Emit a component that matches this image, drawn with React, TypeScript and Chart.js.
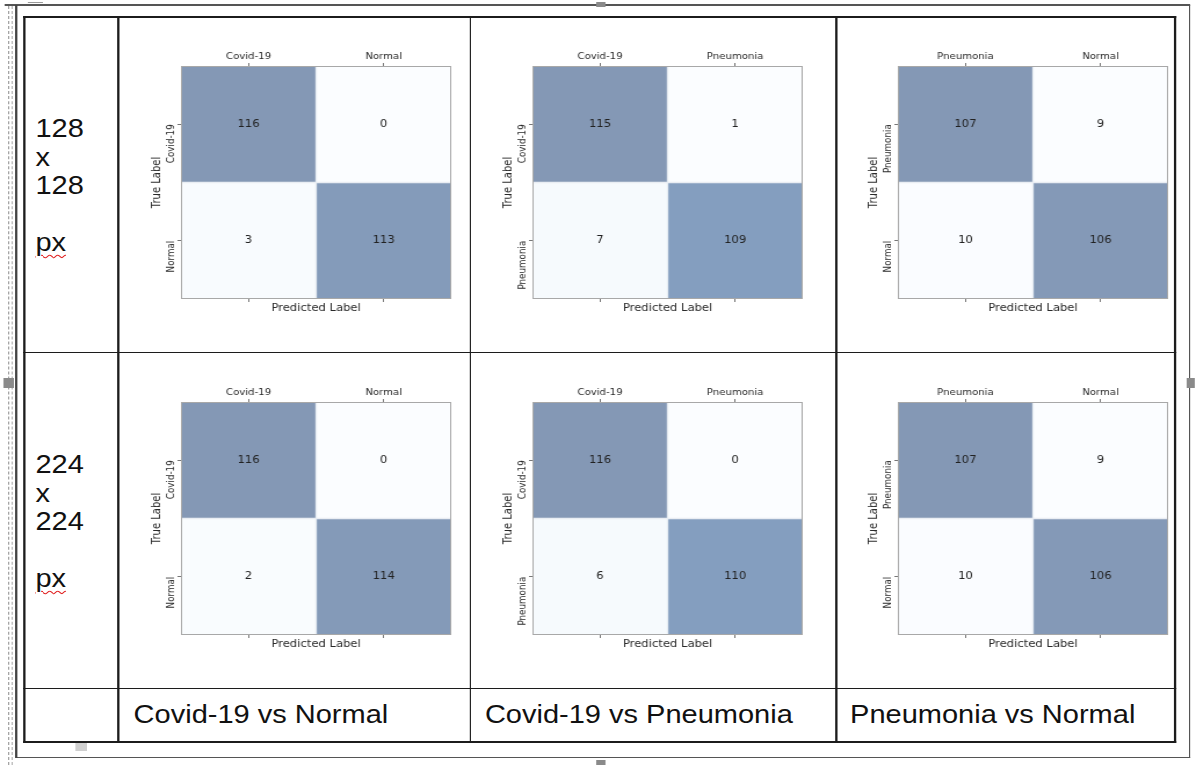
import React, { useEffect, useRef } from "react";
import { Chart, registerables } from "chart.js";

Chart.register(...registerables);

// ---------- data ----------
const classesCovidNormal = ["Covid-19", "Normal"];
const classesCovidPneumonia = ["Covid-19", "Pneumonia"];
const classesPneumoniaNormal = ["Pneumonia", "Normal"];

const cm128CovidNormal = [[116, 0], [3, 113]];
const cm128CovidPneumonia = [[115, 1], [7, 109]];
const cm128PneumoniaNormal = [[107, 9], [10, 106]];
const cm224CovidNormal = [[116, 0], [2, 114]];
const cm224CovidPneumonia = [[116, 0], [6, 110]];
const cm224PneumoniaNormal = [[107, 9], [10, 106]];

const rowLabels128 = ["128", "x", "128", "", "px"];
const rowLabels224 = ["224", "x", "224", "", "px"];
const columnTitles = ["Covid-19 vs Normal", "Covid-19 vs Pneumonia", "Pneumonia vs Normal"];
const xAxisTitle = "Predicted Label";
const yAxisTitle = "True Label";

// ---------- styling ----------
const SX = 1.16; // horizontal stretch of the whole document picture
const BLUES: number[][] = [
  [247, 251, 255], [222, 235, 247], [198, 219, 239], [158, 202, 225], [107, 174, 214],
  [66, 146, 198], [33, 113, 181], [8, 81, 156], [8, 48, 107],
];
const CELL_ALPHA = 0.5;

function cellColor(t: number): string {
  const x = Math.max(0, Math.min(1, t)) * (BLUES.length - 1);
  const i = Math.min(BLUES.length - 2, Math.floor(x));
  const f = x - i;
  const c = BLUES[i].map((v, k) => v + (BLUES[i + 1][k] - v) * f);
  const m = c.map((v) => Math.round(255 + (v - 255) * CELL_ALPHA));
  return `rgb(${m[0]},${m[1]},${m[2]})`;
}

const TICK_FONT = { family: "DejaVu Sans", size: 8.75 };
const TITLE_FONT = { family: "DejaVu Sans", size: 10 };
const TEXT_COLOR = "#2a2a2a";

function Matrix(props: { labels: string[]; matrix: number[][]; left: number; top: number }) {
  const { labels, matrix, left, top } = props;
  const ref = useRef<HTMLCanvasElement>(null);

  useEffect(() => {
    const n = labels.length;
    const flat = matrix.flat();
    const vmin = Math.min(...flat);
    const vmax = Math.max(...flat);

    const datasets = matrix.map((row, r) => ({
      label: labels[r],
      data: row.map(() => [n - r - 1, n - r]),
      backgroundColor: row.map((v) => cellColor((v - vmin) / (vmax - vmin))),
      borderColor: "#e4eaf1",
      borderWidth: 1,
      borderSkipped: false as const,
      barPercentage: 1,
      categoryPercentage: 1,
      grouped: false,
    }));

    const cellText = {
      id: "cellText",
      afterDatasetsDraw(chart: any) {
        const ctx = chart.ctx as CanvasRenderingContext2D;
        ctx.save();
        ctx.font = '10px "DejaVu Sans"';
        ctx.fillStyle = "#222";
        ctx.textAlign = "center";
        ctx.textBaseline = "middle";
        matrix.forEach((row, r) => {
          const meta = chart.getDatasetMeta(r);
          row.forEach((v, c) => {
            const p = meta.data[c].getCenterPoint();
            ctx.fillText(String(v), p.x, p.y);
          });
        });
        const a = chart.chartArea;
        ctx.strokeStyle = "#a8a8a8";
        ctx.lineWidth = 1;
        ctx.strokeRect(a.left + 0.5, a.top + 0.5, a.right - a.left - 1, a.bottom - a.top - 1);
        ctx.restore();
      },
    };

    const gridOpts = {
      display: true,
      drawOnChartArea: false,
      drawTicks: true,
      tickLength: 3,
      offset: false,
      color: "#777",
    };

    const chart = new Chart(ref.current as HTMLCanvasElement, {
      type: "bar",
      data: { labels, datasets: datasets as any },
      plugins: [cellText],
      options: {
        animation: false,
        responsive: true,
        maintainAspectRatio: false,
        events: [],
        layout: { padding: { left: 0, top: 0, right: 4, bottom: 0 } },
        plugins: { legend: { display: false }, tooltip: { enabled: false } },
        scales: {
          x: {
            type: "category",
            position: "top",
            offset: true,
            grid: gridOpts,
            border: { display: false },
            ticks: { font: TICK_FONT, color: TEXT_COLOR, padding: 1, maxRotation: 0, autoSkip: false },
            afterFit: (s: any) => { s.height = 49; },
          },
          x2: {
            type: "category",
            position: "bottom",
            offset: true,
            labels,
            grid: gridOpts,
            border: { display: false },
            ticks: { display: false },
            title: {
              display: true,
              text: xAxisTitle,
              font: TITLE_FONT,
              color: TEXT_COLOR,
              padding: { top: 0, bottom: 38 },
            },
            afterFit: (s: any) => { s.height = 53; },
          },
          y: {
            type: "linear",
            position: "left",
            min: 0,
            max: n,
            afterBuildTicks: (s: any) => {
              s.ticks = labels.map((_, i) => ({ value: n - i - 0.5 }));
            },
            grid: gridOpts,
            border: { display: false },
            ticks: {
              font: TICK_FONT,
              color: TEXT_COLOR,
              padding: 5,
              minRotation: 90,
              maxRotation: 90,
              callback: (v: any) => labels[Math.round(n - 0.5 - Number(v))],
            },
            title: {
              display: true,
              text: yAxisTitle,
              font: TITLE_FONT,
              color: TEXT_COLOR,
              padding: { top: 26, bottom: 0 },
            },
            afterFit: (s: any) => { s.width = 53; },
          },
        },
      } as any,
    });
    return () => chart.destroy();
  }, []);

  return (
    <div style={{ position: "absolute", left, top, width: 290, height: 335 }}>
      <canvas ref={ref} />
    </div>
  );
}

// helpers for lines (x in screen px, converted to native coords)
const nx = (x: number) => x / SX;

function HLine(p: { x1: number; x2: number; y: number; w: number; c: string }) {
  return (
    <div style={{ position: "absolute", left: nx(p.x1), top: p.y - p.w / 2, width: nx(p.x2) - nx(p.x1), height: p.w, background: p.c }} />
  );
}
function VLine(p: { x: number; y1: number; y2: number; w: number; c: string }) {
  return (
    <div style={{ position: "absolute", left: nx(p.x) - p.w / 2, top: p.y1, width: p.w, height: p.y2 - p.y1, background: p.c }} />
  );
}
function Box(p: { x: number; y: number; w: number; h: number; c: string }) {
  return <div style={{ position: "absolute", left: nx(p.x), top: p.y, width: nx(p.w), height: p.h, background: p.c }} />;
}

const docFont = '"Liberation Sans", Arial, sans-serif';

function RowLabel(p: { lines: string[]; top: number }) {
  return (
    <div style={{ position: "absolute", left: 30.5, top: p.top, fontFamily: docFont, fontSize: 25, lineHeight: "28.5px", color: "#111", whiteSpace: "pre" }}>
      {p.lines.map((l, i) => (
        <div key={i} style={{ height: 28.5 }}>
          {l === "px" ? (
            <span style={{ textDecorationLine: "underline", textDecorationStyle: "wavy", textDecorationColor: "#e02020", textDecorationThickness: "1px", textUnderlineOffset: "3px" }}>{l}</span>
          ) : (
            l || "\u00a0"
          )}
        </div>
      ))}
    </div>
  );
}

export default function App() {
  useEffect(() => {
    document.documentElement.style.overflow = "hidden";
    document.body.style.overflow = "hidden";
  }, []);

  const colLefts = [103, 405.6, 721.1];
  const rowTops = [17, 353];
  const row128 = [cm128CovidNormal, cm128CovidPneumonia, cm128PneumoniaNormal];
  const row224 = [cm224CovidNormal, cm224CovidPneumonia, cm224PneumoniaNormal];
  const classes = [classesCovidNormal, classesCovidPneumonia, classesPneumoniaNormal];
  const titleLefts = [115.2, 418, 732.8];

  const line = "#1c1c1c";
  return (
    <div
      style={{
        position: "absolute",
        left: 0,
        top: 0,
        width: 1030,
        height: 765,
        transform: `scaleX(${SX})`,
        transformOrigin: "0 0",
        background: "#fff",
        overflow: "hidden",
      }}
    >
      {row128.map((m, i) => (
        <Matrix key={"a" + i} labels={classes[i]} matrix={m} left={colLefts[i]} top={rowTops[0]} />
      ))}
      {row224.map((m, i) => (
        <Matrix key={"b" + i} labels={classes[i]} matrix={m} left={colLefts[i]} top={rowTops[1]} />
      ))}

      <RowLabel lines={rowLabels128} top={114.1} />
      <RowLabel lines={rowLabels224} top={450.4} />

      {columnTitles.map((t, i) => (
        <div key={t} style={{ position: "absolute", left: titleLefts[i], top: 700.4, fontFamily: docFont, fontSize: 25, lineHeight: "28.5px", color: "#111", whiteSpace: "pre" }}>
          {t}
        </div>
      ))}

      {/* page marks: dashed margin lines */}
      <div style={{ position: "absolute", left: nx(8.3), top: 6, height: 759, borderLeft: "1px dashed #9a9a9a" }} />
      <div style={{ position: "absolute", left: nx(11.6), top: 6, height: 759, borderLeft: "1px dashed #b0b0b0" }} />
      <HLine x1={28} x2={43} y={2.5} w={1.5} c="#9a9a9a" />

      {/* outer frame */}
      <HLine x1={5} x2={1190} y={5} w={1.5} c="#555" />
      <HLine x1={16} x2={1190} y={757.5} w={1.5} c="#555" />
      <VLine x={16} y1={5} y2={758} w={1.6} c="#444" />
      <VLine x={1189.5} y1={5} y2={758} w={1.4} c="#555" />

      {/* table grid */}
      <HLine x1={23} x2={1176} y={16.5} w={2} c={line} />
      <HLine x1={23} x2={1176} y={352.5} w={1.8} c={line} />
      <HLine x1={23} x2={1176} y={688.5} w={1.8} c={line} />
      <HLine x1={23} x2={1176} y={742} w={2} c={line} />
      <VLine x={24.5} y1={16} y2={743} w={1.8} c={line} />
      <VLine x={118.5} y1={16} y2={743} w={1.5} c={line} />
      <VLine x={470.5} y1={16} y2={743} w={1.5} c={line} />
      <VLine x={836.5} y1={16} y2={743} w={1.5} c={line} />
      <VLine x={1175.5} y1={16} y2={743} w={1.8} c={line} />

      {/* selection handles */}
      <Box x={4} y={378} w={10} h={10} c="#8a8a8a" />
      <Box x={1187} y={378} w={10} h={10} c="#8a8a8a" />
      <Box x={596} y={2} w={9} h={5} c="#8a8a8a" />
      <Box x={596} y={760} w={9} h={5} c="#8a8a8a" />
      <Box x={75} y={743} w={12} h={8} c="#cfcfcf" />
    </div>
  );
}
